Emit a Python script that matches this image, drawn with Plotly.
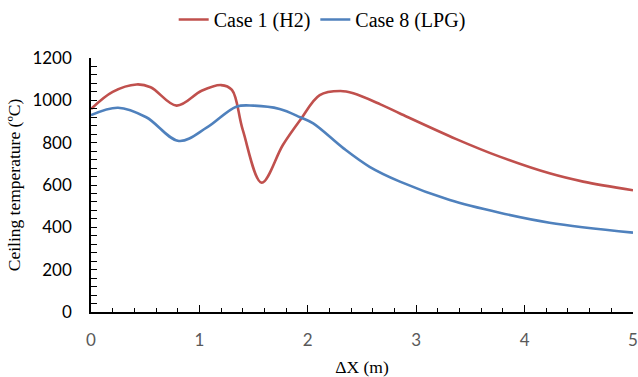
import plotly.graph_objects as go

# Ceiling temperature profiles along the tunnel
x_h2 = [0.0, 0.2, 0.42, 0.55, 0.79, 1.02, 1.2, 1.3, 1.4, 1.575, 1.77, 1.93, 2.11, 2.3, 2.42,
        2.67, 2.85, 3.37, 3.77, 4.23, 4.54, 5.0]
t_h2 = [959, 1040, 1075, 1062, 975, 1045, 1072, 1049, 860, 611, 789, 907, 1025, 1044, 1033,
        981, 938, 817, 734, 655, 616, 575]

x_lpg = [0.0, 0.25, 0.51, 0.81, 1.07, 1.34, 1.5, 1.74, 1.93, 2.05, 2.33, 2.57, 2.85, 3.31,
         3.77, 4.23, 5.0]
t_lpg = [930, 965, 920, 808, 872, 970, 975, 959, 920, 891, 773, 686, 616, 529,
         469, 422, 375]

x_ticks = [0, 1, 2, 3, 4, 5]
y_ticks = [0, 200, 400, 600, 800, 1000, 1200]

fig = go.Figure()
fig.add_trace(go.Scatter(x=x_h2, y=t_h2, mode="lines", name="Case 1 (H2)",
                         line=dict(color="#C0504D", width=2.6, shape="spline", smoothing=1.0)))
fig.add_trace(go.Scatter(x=x_lpg, y=t_lpg, mode="lines", name="Case 8 (LPG)",
                         line=dict(color="#4F81BD", width=2.6, shape="spline", smoothing=1.0)))

fig.update_layout(
    width=638, height=377,
    margin=dict(l=91, r=5, t=58, b=65, autoexpand=False),
    paper_bgcolor="white", plot_bgcolor="white",
    showlegend=True,
    legend=dict(orientation="h", x=0.505, xref="container", xanchor="center",
                y=1.0, yref="container", yanchor="top",
                font=dict(family="Liberation Serif", size=20, color="black"),
                tracegroupgap=0),
)
fig.update_xaxes(
    range=[0, 5], tickvals=x_ticks, showgrid=False, zeroline=False, automargin=False,
    showline=True, linecolor="black", linewidth=1.5,
    ticks="inside", ticklen=7, tickcolor="black", tickwidth=1.3,
    minor=dict(ticks="inside", ticklen=4, dtick=0.2, tickcolor="black", tickwidth=1.3),
    tickfont=dict(family="Lato", size=17, color="#595959"), ticklabelstandoff=12,
    title=dict(text="ΔX (m)", font=dict(family="Liberation Serif", size=17.5, color="black"),
               standoff=12),
)
fig.update_yaxes(
    range=[0, 1200], tickvals=y_ticks, showgrid=False, zeroline=False, automargin=False,
    showline=True, linecolor="black", linewidth=1.5,
    ticks="inside", ticklen=6, tickcolor="black", tickwidth=1.3,
    minor=dict(ticks="inside", ticklen=6, dtick=40, tickcolor="black", tickwidth=1.3),
    tickfont=dict(family="Lato", size=17, color="black"), ticklabelstandoff=14,
    title=dict(text="Ceiling temperature (ºC)",
               font=dict(family="Liberation Serif", size=17.5, color="black"), standoff=7),
)

fig.write_html("out.html")
